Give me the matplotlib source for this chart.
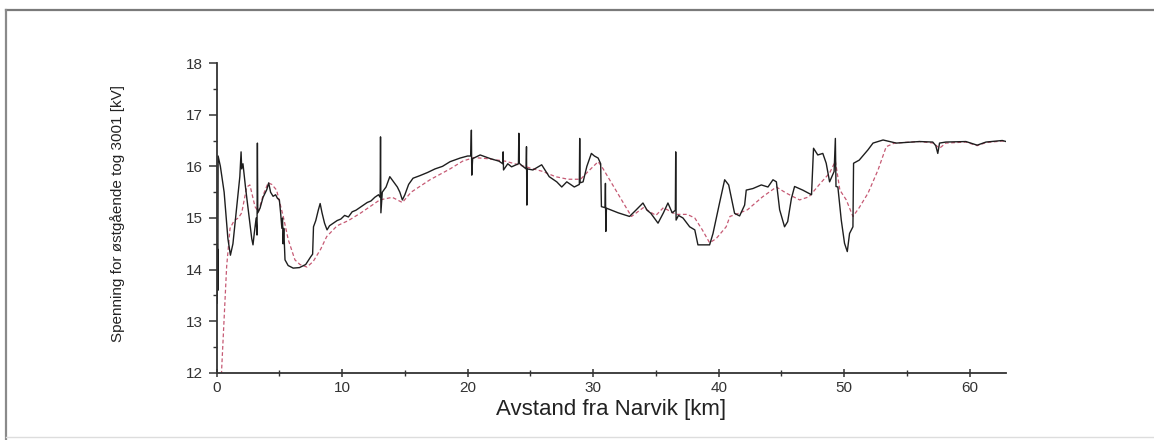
import matplotlib
matplotlib.use("Agg")
import matplotlib.pyplot as plt
from matplotlib.lines import Line2D
from matplotlib.ticker import MultipleLocator

# Målt spenning langs strekningen (km fra Narvik, kV)
km_malt = [0.0, 0.05, 0.08, 0.10, 0.12, 0.3, 0.6, 0.9, 1.1, 1.3, 1.6, 1.85, 1.95, 2.0, 2.1,
           2.3, 2.6, 2.8, 2.9, 3.0, 3.15, 3.22, 3.25, 3.28, 3.46, 3.7, 4.0, 4.15, 4.3, 4.5,
           4.7, 4.85, 5.0, 5.1, 5.2, 5.25, 5.3, 5.35, 5.45, 5.7, 6.1, 6.6, 7.1, 7.5, 7.65,
           7.72, 7.9, 8.1, 8.25, 8.4, 8.6, 8.8, 9.0, 9.3, 9.6, 9.9, 10.2, 10.5, 10.8, 11.1,
           11.4, 11.7, 12.0, 12.3, 12.6, 12.9, 13.03, 13.06, 13.09, 13.2, 13.5, 13.8, 14.1,
           14.4, 14.6, 14.8, 15.0, 15.3, 15.65, 16.2, 16.8, 17.4, 18.0, 18.6, 19.4, 20.0,
           20.25, 20.3, 20.33, 20.4, 21.0, 21.8, 22.5, 22.8, 22.83, 22.86, 23.2, 23.5, 24.05,
           24.08, 24.11, 24.4, 24.66, 24.69, 24.72, 24.75, 25.2, 25.9, 26.5, 27.1, 27.5, 27.9,
           28.5, 28.9, 28.93, 28.96, 29.2, 29.5, 29.86, 30.1, 30.4, 30.6, 30.66, 30.95, 30.98,
           31.01, 31.06, 32.0, 32.9, 33.4, 33.97, 34.3, 34.6, 35.17, 35.6, 35.96, 36.3, 36.55,
           36.58, 36.61, 36.8, 37.16, 37.69, 38.1, 38.35, 39.28, 39.55, 40.08, 40.48, 40.8,
           41.27, 41.67, 42.07, 42.2, 42.73, 43.4, 43.93, 44.33, 44.6, 44.86, 45.25, 45.5,
           45.8, 46.05, 46.7, 47.4, 47.56, 47.9, 48.3, 48.57, 48.84, 49.2, 49.3, 49.35, 49.5,
           49.77, 50.03, 50.25, 50.43, 50.7, 50.75, 51.2, 51.9, 52.3, 52.7, 53.1, 54.15, 56.0,
           57.06, 57.3, 57.46, 57.6, 58.1, 59.7, 60.6, 61.3, 62.6, 62.9]
kv_malt = [14.5, 13.35, 14.4, 13.6, 16.2, 16.0, 15.5, 14.6, 14.28, 14.5, 15.2, 15.8, 16.28,
           15.95, 16.05, 15.6, 15.0, 14.6, 14.48, 14.7, 15.0, 14.67, 16.45, 15.1, 15.19, 15.4,
           15.55, 15.68, 15.5, 15.42, 15.45, 15.38, 15.35, 15.1, 14.8, 15.0, 14.5, 14.8,
           14.19, 14.08, 14.03, 14.04, 14.1, 14.25, 14.3, 14.83, 14.95, 15.15, 15.28, 15.1,
           14.9, 14.77, 14.85, 14.9, 14.95, 14.98, 15.05, 15.02, 15.12, 15.15, 15.2, 15.25,
           15.3, 15.33, 15.4, 15.45, 15.4, 16.57, 15.1, 15.5, 15.6, 15.8, 15.7, 15.6, 15.5,
           15.35, 15.45, 15.65, 15.77, 15.82, 15.88, 15.95, 16.0, 16.09, 16.16, 16.2, 16.2,
           16.7, 15.83, 16.15, 16.22, 16.15, 16.1, 16.05, 16.28, 15.93, 16.05, 15.99, 16.05,
           16.64, 16.06, 16.0, 15.95, 16.38, 15.25, 15.95, 15.93, 16.03, 15.8, 15.7, 15.6,
           15.7, 15.6, 15.65, 16.54, 15.68, 15.7, 16.0, 16.25, 16.2, 16.16, 16.05, 15.22, 15.2,
           15.67, 14.74, 15.19, 15.1, 15.03, 15.15, 15.29, 15.15, 15.09, 14.9, 15.1, 15.29,
           15.1, 15.15, 16.28, 14.96, 15.05, 15.0, 14.83, 14.77, 14.48, 14.48, 14.7, 15.3,
           15.74, 15.64, 15.09, 15.04, 15.25, 15.54, 15.57, 15.64, 15.6, 15.74, 15.7, 15.16,
           14.83, 14.93, 15.38, 15.61, 15.54, 15.45, 16.35, 16.22, 16.25, 16.06, 15.7, 15.9,
           16.54, 15.61, 15.6, 14.96, 14.51, 14.35, 14.7, 14.83, 16.06, 16.12, 16.32, 16.45,
           16.48, 16.51, 16.45, 16.48, 16.47, 16.4, 16.25, 16.45, 16.47, 16.48, 16.41, 16.47,
           16.5, 16.48]

# Beregnet spenning (simulering)
km_beregnet = [0.3, 0.4, 0.8, 1.07, 1.4, 1.73, 2.0, 2.4, 2.65, 3.06, 3.33, 3.72, 4.1, 4.4,
               4.78, 5.31, 5.71, 6.24, 6.64, 7.2, 7.7, 8.3, 8.77, 9.6, 10.5, 11.5, 13.0,
               14.0, 14.8, 15.5, 17.0, 18.6, 19.6, 20.5, 21.5, 23.0, 24.5, 26.0, 27.0, 28.0,
               29.0, 29.6, 30.4, 30.8, 33.05, 34.0, 35.0, 35.6, 36.6, 37.5, 38.1, 38.7, 39.28,
               39.8, 40.6, 40.9, 41.7, 42.3, 43.5, 44.6, 45.4, 46.45, 47.2, 48.1, 48.84, 49.3,
               49.66, 50.17, 50.7, 51.2, 51.9, 52.7, 53.35, 54.0, 56.0, 57.1, 57.6, 58.1,
               59.7, 60.6, 61.3, 62.6, 62.9]
kv_beregnet = [11.0, 12.06, 14.06, 14.8, 14.95, 15.0, 15.1, 15.6, 15.64, 15.22, 15.12, 15.45,
               15.68, 15.65, 15.54, 15.03, 14.58, 14.19, 14.1, 14.05, 14.16, 14.4, 14.64,
               14.85, 14.95, 15.1, 15.35, 15.4, 15.3, 15.5, 15.74, 15.95, 16.1, 16.17, 16.15,
               16.1, 16.0, 15.9, 15.8, 15.75, 15.75, 15.9, 16.09, 15.95, 15.03, 15.2, 15.05,
               15.2, 15.07, 15.07, 15.0, 14.77, 14.52, 14.6, 14.83, 15.03, 15.1, 15.16, 15.41,
               15.6, 15.48, 15.35, 15.41, 15.67, 15.87, 16.1, 15.54, 15.35, 15.03, 15.2, 15.48,
               15.93, 16.38, 16.45, 16.48, 16.45, 16.35, 16.45, 16.47, 16.4, 16.46, 16.49,
               16.47]

fig = plt.figure(figsize=(11.54, 4.4), dpi=100)
ax = fig.add_axes([0.1877, 0.1523, 0.6841, 0.7045])

ax.plot(km_beregnet, kv_beregnet, color="#c65a74", lw=0.9, ls=(0, (3, 2)))
ax.plot(km_malt, kv_malt, color="#1e1e1e", lw=1.0)

ax.set_xlim(0, 62.9)
ax.set_ylim(12, 18)
ax.xaxis.set_major_locator(MultipleLocator(10))
ax.xaxis.set_minor_locator(MultipleLocator(5))
ax.yaxis.set_major_locator(MultipleLocator(1))
ax.yaxis.set_minor_locator(MultipleLocator(0.5))

for side in ("top", "right"):
    ax.spines[side].set_visible(False)
for side in ("left", "bottom"):
    ax.spines[side].set_color("#333333")
    ax.spines[side].set_linewidth(1.3)

ax.tick_params(axis="y", which="major", direction="out", length=6, width=1.1,
               colors="#333333", labelsize=11, pad=4)
ax.tick_params(axis="y", which="minor", direction="out", length=3, width=1.0,
               colors="#333333")
ax.tick_params(axis="x", which="major", direction="inout", length=6, width=1.1,
               colors="#333333", labelsize=11, pad=3)
ax.tick_params(axis="x", which="minor", direction="inout", length=4, width=1.0,
               colors="#333333")
for lab in ax.get_xticklabels() + ax.get_yticklabels():
    lab.set_family(["Liberation Sans", "DejaVu Sans"])

ax.set_xlabel("Avstand fra Narvik [km]", fontsize=16, color="#222222",
              family=["Liberation Sans", "DejaVu Sans"], labelpad=3)
ax.set_ylabel("Spenning for østgående tog 3001 [kV]", fontsize=11, color="#222222",
              family=["Liberation Sans", "DejaVu Sans"])
ax.yaxis.set_label_coords(-0.116, 0.515)

# ramme rundt figuren
fig.add_artist(Line2D([6 / 1154, 1.0], [1 - 10 / 440, 1 - 10 / 440],
                      transform=fig.transFigure, color="#7a7a7a", lw=1.6))
fig.add_artist(Line2D([6 / 1154, 6 / 1154], [1 - 10 / 440, 0.0],
                      transform=fig.transFigure, color="#8a8a8a", lw=1.6))
fig.add_artist(Line2D([6 / 1154, 1.0], [1 - 437 / 440, 1 - 437 / 440],
                      transform=fig.transFigure, color="#dddddd", lw=1.0))

fig.savefig("out.png", dpi=100)
